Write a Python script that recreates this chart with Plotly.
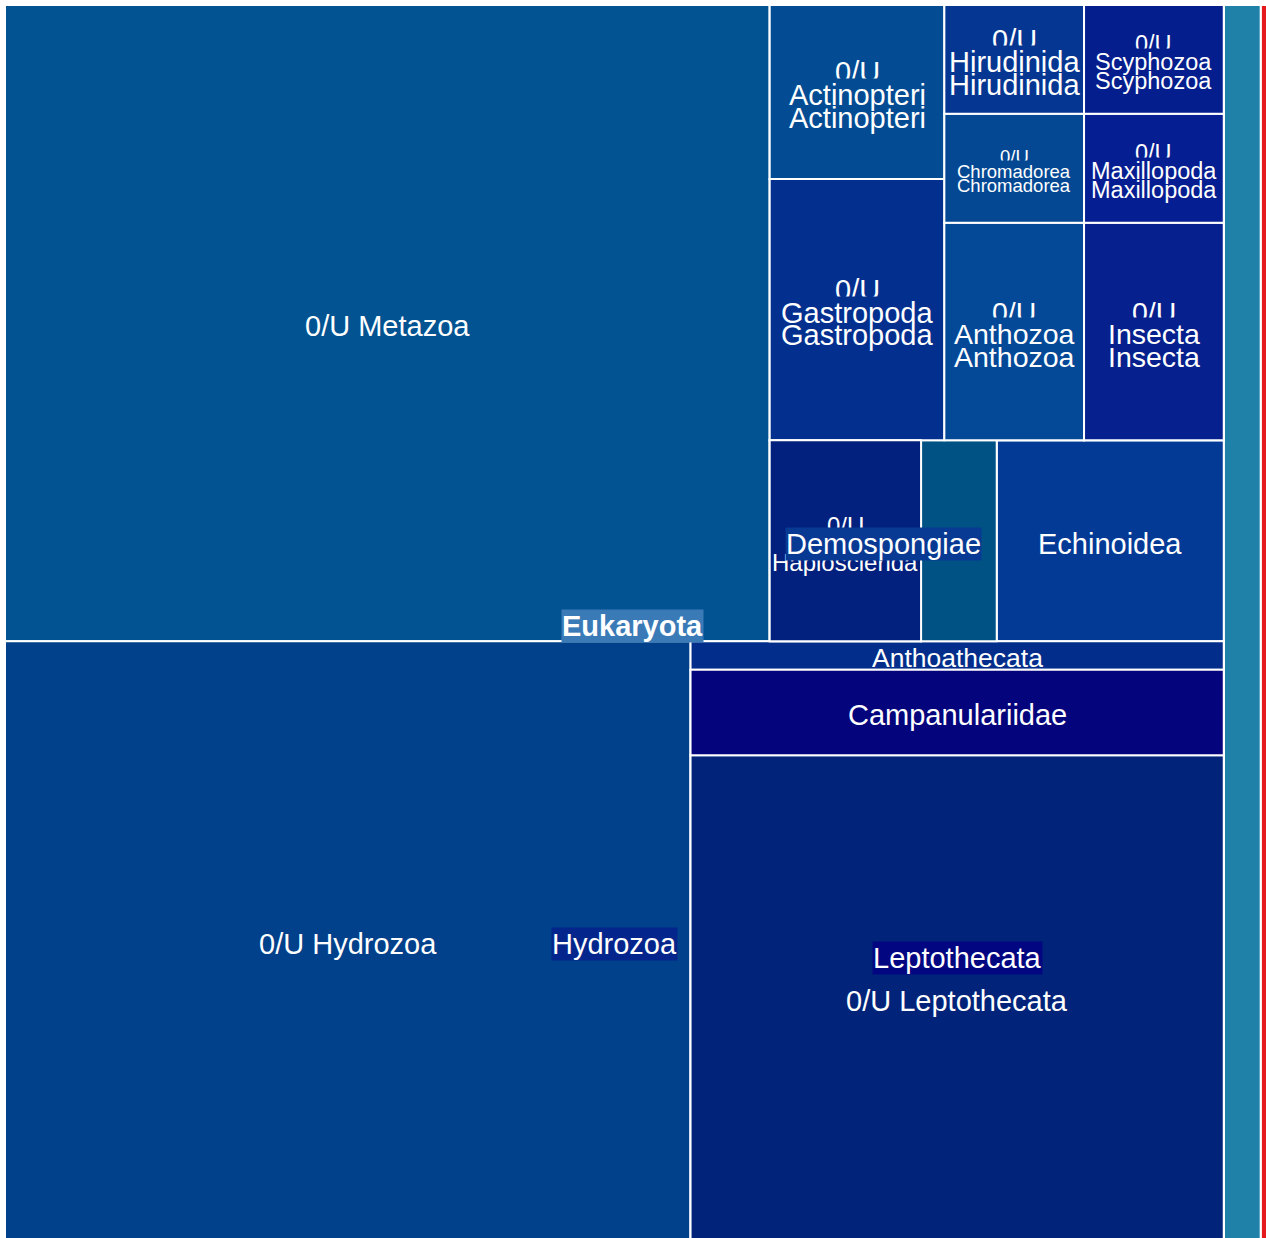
import plotly.graph_objects as go

# ---------------- data ----------------
node_ids = [
    "root", "Eukaryota", "Bacteria",
    "Metazoa", "0/U Eukaryota",
    "0/U Metazoa", "Actinopteri", "Anthozoa", "Chromadorea", "Demospongiae",
    "Echinoidea", "Gastropoda", "Hirudinida", "Hydrozoa", "Insecta",
    "Maxillopoda", "Scyphozoa",
    "0/U Actinopteri", "0/U Anthozoa", "0/U Chromadorea",
    "Haplosclerida", "0/U Demospongiae", "0/U Gastropoda", "0/U Hirudinida",
    "0/U Hydrozoa", "Anthoathecata", "Leptothecata",
    "0/U Insecta", "0/U Maxillopoda", "0/U Scyphozoa",
    "0/U Haplosclerida", "0/U Leptothecata", "Campanulariidae",
]
node_parents = [
    "", "root", "root",
    "Eukaryota", "Eukaryota",
    "Metazoa", "Metazoa", "Metazoa", "Metazoa", "Metazoa",
    "Metazoa", "Metazoa", "Metazoa", "Metazoa", "Metazoa",
    "Metazoa", "Metazoa",
    "Actinopteri", "Anthozoa", "Chromadorea",
    "Demospongiae", "Demospongiae", "Gastropoda", "Hirudinida",
    "Hydrozoa", "Hydrozoa", "Hydrozoa",
    "Insecta", "Maxillopoda", "Scyphozoa",
    "Haplosclerida", "Leptothecata", "Leptothecata",
]
node_values = [
    0, 0, 1,
    0, 3,
    32, 0, 0, 0, 0,
    3, 0, 0, 0, 0,
    0, 0,
    2, 2, 1,
    0, 1, 3, 1,
    27, 1, 0,
    2, 1, 1,
    2, 17, 3,
]

# ---------------- style ----------------
node_colors = {
    "root": "#1f80a8", "Eukaryota": "#3a7ab7", "Bacteria": "#e41a1c",
    "Metazoa": "#025392", "0/U Eukaryota": "#1f80a8",
    "0/U Metazoa": "#025392",
    "Actinopteri": "#034c94", "0/U Actinopteri": "#034c94",
    "Anthozoa": "#044898", "0/U Anthozoa": "#044898",
    "Chromadorea": "#044894", "0/U Chromadorea": "#044894",
    "Demospongiae": "#083a94", "Haplosclerida": "#02207d",
    "0/U Haplosclerida": "#02207d", "0/U Demospongiae": "#005284",
    "Echinoidea": "#033a96",
    "Gastropoda": "#03308f", "0/U Gastropoda": "#03308f",
    "Hirudinida": "#053692", "0/U Hirudinida": "#053692",
    "Hydrozoa": "#04268c", "0/U Hydrozoa": "#01408a",
    "Anthoathecata": "#022d8a", "Leptothecata": "#020680",
    "0/U Leptothecata": "#01247a", "Campanulariidae": "#04047c",
    "Insecta": "#06208e", "0/U Insecta": "#06208e",
    "Maxillopoda": "#051e91", "0/U Maxillopoda": "#051e91",
    "Scyphozoa": "#041e8e", "0/U Scyphozoa": "#041e8e",
}

FONT = "Liberation Sans, Arial, sans-serif"
Y_NUDGE = -3  # px, all labels sit slightly below the cell centre
# single-line labels centred in their own cell: font size
single_labels = {"0/U Metazoa": 29, "0/U Hydrozoa": 29, "Anthoathecata": 26.5,
                 "Campanulariidae": 29, "0/U Leptothecata": 29, "Echinoidea": 29}
# wrapped "0/U X" leaves: font size, and whether the parent label is drawn over them
wrapped_labels = {"0/U Actinopteri": (29, True), "0/U Gastropoda": (29, True),
                  "0/U Hirudinida": (29, True), "0/U Scyphozoa": (23.5, True),
                  "0/U Chromadorea": (18.5, True), "0/U Maxillopoda": (23.5, True),
                  "0/U Anthozoa": (28.5, True), "0/U Insecta": (28.5, True),
                  "0/U Haplosclerida": (24, False)}
# parent labels drawn last, with a background box
top_parent_labels = {"Demospongiae": (29, False), "Leptothecata": (29, False),
                     "Hydrozoa": (29, False), "Eukaryota": (29, True)}

M_L, M_T = 5, 5
PLOT_W, PLOT_H = 1268, 1235
W_FIG, H_FIG = PLOT_W + M_L, PLOT_H + M_T


def squarify_layout(ids, parents, values, w, h, ratio=1.0):
    """Replica of d3 treemapSquarify (as used by plotly) to find cell centres."""
    children = {i: [] for i in ids}
    for i, p in zip(ids, parents):
        if p:
            children[p].append(i)
    own = dict(zip(ids, values))
    total = {}

    def tot(n):
        total[n] = own[n] + sum(tot(c) for c in children[n])
        return total[n]

    root = [i for i, p in zip(ids, parents) if not p][0]
    tot(root)
    rects = {root: (0.0, 0.0, float(w), float(h))}

    def dice(row, x0, y0, x1, y1, rv):
        k = (x1 - x0) / rv if rv else 0
        for c in row:
            rects[c] = (x0, y0, x0 + total[c] * k, y1)
            x0 += total[c] * k

    def slc(row, x0, y0, x1, y1, rv):
        k = (y1 - y0) / rv if rv else 0
        for c in row:
            rects[c] = (x0, y0, x1, y0 + total[c] * k)
            y0 += total[c] * k

    def tile(n):
        kids = sorted(children[n], key=lambda c: -total[c])
        if not kids:
            return
        x0, y0, x1, y1 = rects[n]
        value = total[n]
        i0 = i1 = 0
        nk = len(kids)
        while i0 < nk:
            dx, dy = x1 - x0, y1 - y0
            s = total[kids[i1]]
            i1 += 1
            while not s and i1 < nk:
                s = total[kids[i1]]
                i1 += 1
            mn = mx = s
            alpha = max(dy / dx, dx / dy) / (value * ratio)
            beta = s * s * alpha
            min_ratio = max(mx / beta, beta / mn)
            while i1 < nk:
                v = total[kids[i1]]
                s += v
                mn, mx = min(mn, v), max(mx, v)
                beta = s * s * alpha
                nr = max(mx / beta, beta / mn)
                if nr > min_ratio:
                    s -= v
                    break
                min_ratio = nr
                i1 += 1
            row = kids[i0:i1]
            if dx < dy:
                ny = y0 + dy * s / value if value else y1
                dice(row, x0, y0, x1, ny, s)
                y0 = ny
            else:
                nx = x0 + dx * s / value if value else x1
                slc(row, x0, y0, nx, y1, s)
                x0 = nx
            value -= s
            i0 = i1
        for c in kids:
            tile(c)

    tile(root)
    return rects


rects = squarify_layout(node_ids, node_parents, node_values, PLOT_W, PLOT_H)


def centre(n):
    x0, y0, x1, y1 = rects[n]
    # flip='y' : d3 top-down y becomes paper y directly
    return (x0 + x1) / 2 / PLOT_W, (y0 + y1) / 2 / PLOT_H


parent_of = dict(zip(node_ids, node_parents))
annotations = []


def add(text, node, size, bold=False, bg=None, yshift=0):
    x, y = centre(node)
    annotations.append(dict(
        x=x, y=y, xref="paper", yref="paper", xanchor="center", yanchor="middle",
        text=f"<b>{text}</b>" if bold else text, showarrow=False,
        yshift=yshift + Y_NUDGE,
        font=dict(family=FONT, size=size, color="white"),
        bgcolor=bg if bg else "rgba(0,0,0,0)", borderpad=0))


for n, fs in single_labels.items():
    add(n, n, fs)
for n, (fs, with_parent) in wrapped_labels.items():
    first, rest = n.split(" ", 1)
    par = parent_of[n]
    add(first, n, fs, yshift=0.78 * fs)
    if with_parent:
        add(par, par, fs, bg=node_colors[par])
    add(rest, n, fs, yshift=-0.78 * fs)
for n, (fs, bold) in top_parent_labels.items():
    add(n, n, fs, bold=bold, bg=node_colors[n])

fig = go.Figure(go.Treemap(
    ids=node_ids,
    labels=node_ids,
    parents=node_parents,
    values=node_values,
    branchvalues="remainder",
    sort=True,
    tiling=dict(packing="squarify", squarifyratio=1, flip="y", pad=0),
    marker=dict(colors=[node_colors[i] for i in node_ids],
                line=dict(color="white", width=2),
                pad=dict(t=0, l=0, r=0, b=0)),
    pathbar=dict(visible=False),
    textinfo="none",
    hoverinfo="label+value",
))

fig.update_layout(
    width=W_FIG, height=H_FIG,
    margin=dict(l=M_L, t=M_T, r=0, b=0),
    paper_bgcolor="white",
    annotations=annotations,
    showlegend=False,
)

fig.write_html(
    "out.html",
    config={"displayModeBar": False},
    post_script="document.body.style.margin='0';document.body.style.overflow='hidden';"
                "document.documentElement.style.overflow='hidden';",
)
